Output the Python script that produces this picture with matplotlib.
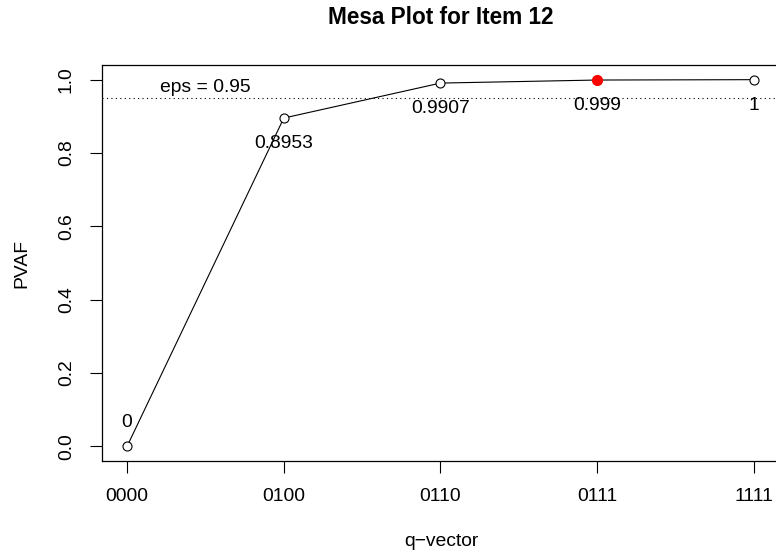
import matplotlib
matplotlib.use('Agg')
import matplotlib.pyplot as plt

plt.rcParams['font.family'] = ['Liberation Sans', 'DejaVu Sans']

# data
qvectors = ['0000', '0100', '0110', '0111', '1111']
pvaf = [0, 0.8953, 0.9907, 0.999, 1]
labels = ['0', '0.8953', '0.9907', '0.999', '1']
eps = 0.95
chosen = 3  # index of the selected q-vector

W, H = 776, 557
fig = plt.figure(figsize=(W / 100, H / 100), dpi=100)
# plot region in pixels: left 102, right 779, top 65, bottom 461
ax = fig.add_axes([102 / W, (H - 461) / H, (779 - 102) / W, (461 - 65) / H])

x = list(range(1, len(qvectors) + 1))
ax.plot(x, pvaf, color='black', lw=0.8, marker='o', ms=6.5,
        mfc='white', mec='black', mew=0.8, zorder=3)
ax.plot(x[chosen], pvaf[chosen], 'o', color='red', ms=7, zorder=4)

ax.axhline(eps, color='black', lw=0.8, linestyle=(0, (1, 3)))
ax.annotate('eps = %g' % eps, (1.5, eps), xytext=(0, 7.5),
            textcoords='offset points', ha='center', va='center',
            fontsize=13.9)

for i, (xi, yi) in enumerate(zip(x, pvaf)):
    off = 17 if i == 0 else -18.5
    ax.annotate(labels[i], (xi, yi), xytext=(0, off),
                textcoords='offset points', ha='center', va='center',
                fontsize=13.9, annotation_clip=False)

ax.set_xlim(0.84, 5.16)
ax.set_ylim(-0.04, 1.04)
ax.set_xticks(x)
ax.set_xticklabels(qvectors)
ax.set_yticks([0, 0.2, 0.4, 0.6, 0.8, 1.0])
ax.set_yticklabels(['0.0', '0.2', '0.4', '0.6', '0.8', '1.0'],
                   rotation=90, va='center')
ax.tick_params(axis='both', length=8.6, width=0.8, labelsize=13.9,
               direction='out')
ax.tick_params(axis='x', pad=11)
ax.tick_params(axis='y', pad=11)
for s in ax.spines.values():
    s.set_linewidth(0.9)

fig.text(441 / W, 1 - 17 / H, 'Mesa Plot for Item 12', ha='center',
         va='center', fontsize=16.3, fontweight='bold')
fig.text(441 / W, 1 - 541 / H, 'q\u2212vector', ha='center', va='center',
         fontsize=13.9)
fig.text(22 / W, 1 - 263 / H, 'PVAF', ha='center', va='center',
         rotation=90, fontsize=13.9)

fig.savefig('out.png', dpi=100)
